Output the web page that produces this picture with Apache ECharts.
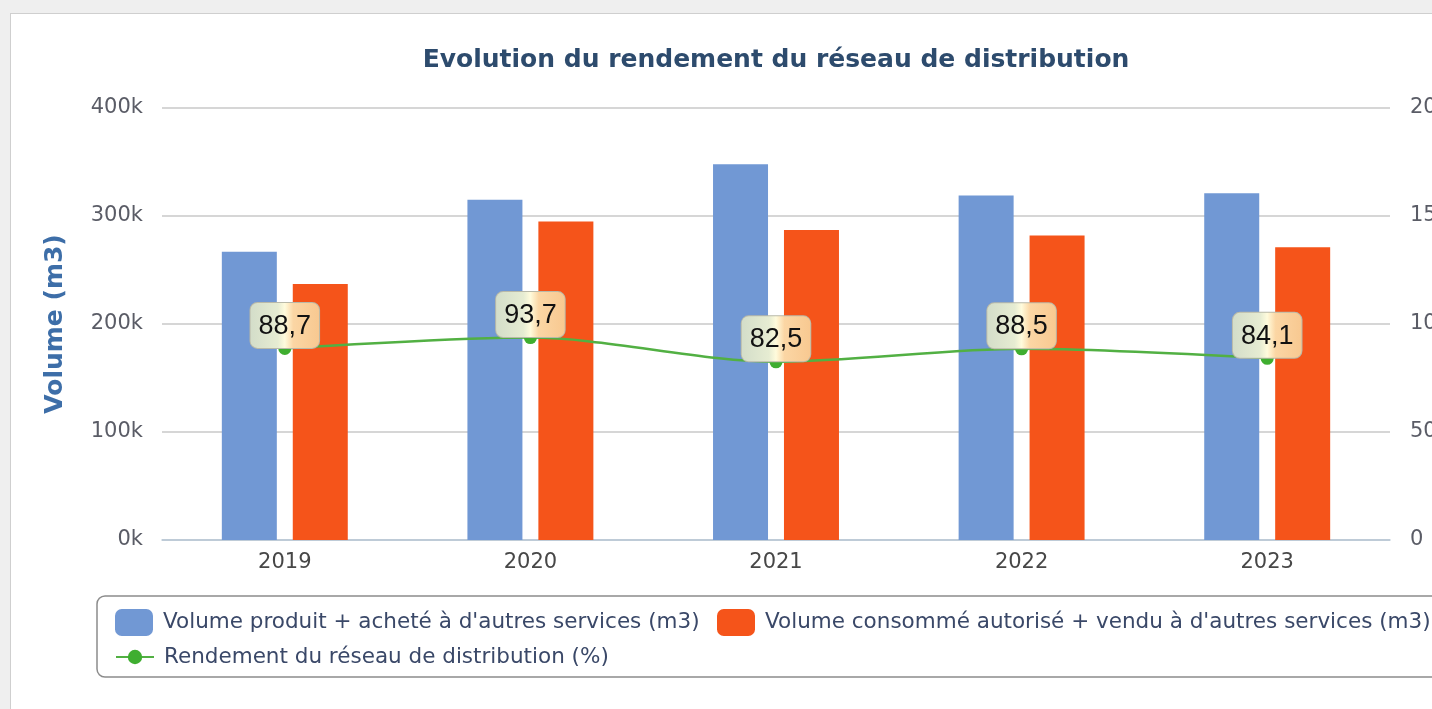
<!DOCTYPE html>
<html>
<head>
<meta charset="utf-8">
<script src="https://cdn.jsdelivr.net/npm/echarts@6/dist/echarts.min.js"></script>
<style>
  html, body { margin: 0; padding: 0; background: #efefef; overflow: hidden; }
  #panel { position: absolute; left: 10px; top: 13px; width: 1440px; height: 720px; background: #fff; border: 1px solid #cfcfcf; }
  #chart { position: absolute; left: 0; top: 0; width: 1432px; height: 709px; }
</style>
</head>
<body>
<div id="panel"></div>
<div id="chart"></div>
<script>
const years = ["2019", "2020", "2021", "2022", "2023"];
const volumeProduit = [267000, 315000, 348000, 319000, 321000];
const volumeConsomme = [237000, 295000, 287000, 282000, 271000];
const rendement = [88.7, 93.7, 82.5, 88.5, 84.1];

const NAME_PRODUIT = "Volume produit + acheté à d'autres services (m3)";
const NAME_CONSOMME = "Volume consommé autorisé + vendu à d'autres services (m3)";
const NAME_RENDEMENT = "Rendement du réseau de distribution (%)";

const FONT = "DejaVu Sans";
const BLUE = "#7198d4";
const ORANGE = "#f5541a";
const GREEN = "#52b043";

const chart = echarts.init(document.getElementById("chart"));

const labelBg = new echarts.graphic.LinearGradient(0, 0, 1, 0, [
  { offset: 0, color: "#d3ddc9" },
  { offset: 0.4, color: "#e6ecd2" },
  { offset: 0.5, color: "#fffbdc" },
  { offset: 0.62, color: "#fbd6a4" },
  { offset: 1, color: "#f8c890" },
]);

const legendText = { fontFamily: FONT, fontSize: 21.5, color: "#3a4868", padding: [0, 0, 0, 5] };

const option = {
  animation: false,
  textStyle: { fontFamily: FONT },
  title: {
    text: "Evolution du rendement du réseau de distribution",
    left: 771,
    textAlign: "center",
    top: 43,
    textStyle: { fontFamily: FONT, fontSize: 25, fontWeight: "bold", color: "#2d4b6d" },
  },
  grid: { left: 162, right: 42, top: 108, bottom: 169, outerBoundsMode: "none", containLabel: false },
  graphic: [
    {
      type: "rect",
      z: -10,
      shape: { x: 97, y: 596, width: 1400, height: 81, r: 8 },
      style: { fill: "#fff", stroke: "#8c8c8c", lineWidth: 1.5 },
    },
  ],
  legend: [
    {
      data: [NAME_PRODUIT],
      left: 115, top: 609, padding: 0,
      itemWidth: 38, itemHeight: 27,
      icon: "roundRect",
      textStyle: legendText,
    },
    {
      data: [NAME_CONSOMME],
      left: 717, top: 609, padding: 0,
      itemWidth: 38, itemHeight: 27,
      icon: "roundRect",
      textStyle: legendText,
    },
    {
      data: [NAME_RENDEMENT],
      left: 115, top: 646, padding: 0,
      itemWidth: 38, itemHeight: 18,
      textStyle: legendText,
    },
  ],
  xAxis: {
    type: "category",
    data: years,
    axisLine: { lineStyle: { color: "#b7c7d8", width: 1.5 } },
    axisTick: { length: 12, lineStyle: { color: "#b7c7d8", width: 1.5 } },
    axisLabel: { fontFamily: FONT, fontSize: 21, color: "#474747", margin: 12 },
  },
  yAxis: [
    {
      type: "value",
      min: 0,
      max: 400000,
      interval: 100000,
      name: "Volume (m3)",
      nameLocation: "middle",
      nameGap: 94,
      nameTextStyle: { fontFamily: FONT, fontSize: 25, fontWeight: "bold", color: "#3d6ea8" },
      axisLabel: {
        fontFamily: FONT, fontSize: 21, color: "#5a5c66", margin: 19,
        formatter: (v) => v / 1000 + "k",
      },
      splitLine: { lineStyle: { color: "#c9c9c9", width: 1.5 } },
    },
    {
      type: "value",
      min: 0,
      max: 200,
      interval: 50,
      axisLabel: { fontFamily: FONT, fontSize: 21, color: "#5a5c66", margin: 20 },
      splitLine: { show: false },
    },
  ],
  series: [
    {
      name: NAME_PRODUIT,
      type: "bar",
      data: volumeProduit,
      itemStyle: { color: BLUE },
      barWidth: 55,
      barGap: "29%",
    },
    {
      name: NAME_CONSOMME,
      type: "bar",
      data: volumeConsomme,
      itemStyle: { color: ORANGE },
      barWidth: 55,
    },
    {
      name: NAME_RENDEMENT,
      type: "line",
      yAxisIndex: 1,
      data: rendement,
      smooth: 0.3,
      symbol: "circle",
      symbolSize: 13,
      lineStyle: { color: GREEN, width: 2.5 },
      itemStyle: { color: "#3fae30" },
      z: 5,
      label: {
        show: true,
        position: "top",
        distance: -6,
        formatter: (p) => String(p.value).replace(".", ","),
        fontFamily: "Liberation Sans",
        fontSize: 27,
        color: "#111",
        backgroundColor: labelBg,
        borderColor: "#b9b9a8",
        borderWidth: 1,
        borderRadius: 7,
        padding: [10, 8, 8, 8],
      },
    },
  ],
};

chart.setOption(option);
</script>
</body>
</html>
